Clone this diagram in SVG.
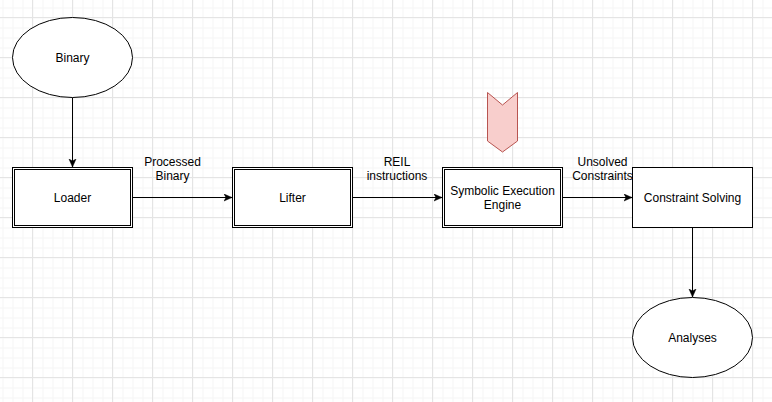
<svg xmlns="http://www.w3.org/2000/svg" width="772" height="402" viewBox="0 0 772 402">
<defs>
<pattern id="minor" width="10" height="10" patternUnits="userSpaceOnUse" x="2.5" y="7.5">
<path d="M0,0.5 H10 M0.5,0 V10" fill="none" stroke="#f5f5f5" stroke-width="1"/>
</pattern>
<pattern id="major" width="40" height="40" patternUnits="userSpaceOnUse" x="32" y="17">
<path d="M0,0.5 H40 M0.5,0 V40" fill="none" stroke="#e4e4e4" stroke-width="1"/>
</pattern>
<marker id="arr" markerWidth="10" markerHeight="10" refX="8" refY="4" orient="auto" markerUnits="userSpaceOnUse">
<path d="M0,0.5 L8,4 L0,7.5 L2,4 Z" fill="#000" stroke="#000" stroke-width="0.5"/>
</marker>
<style>
.box{fill:#fff;stroke:#000;stroke-width:1}
.t{font-family:"Liberation Sans",Arial,sans-serif;font-size:12px;fill:#000;text-anchor:middle}
.c{fill:none;stroke:#000;stroke-width:1}
</style>
</defs>
<rect width="772" height="402" fill="#fff"/>
<rect width="772" height="402" fill="url(#minor)"/>
<rect width="772" height="402" fill="url(#major)"/>

<g id="connectors">
<path class="c" d="M72.5,97.5 V167" marker-end="url(#arr)"/>
<path class="c" d="M132.5,197.5 H232" marker-end="url(#arr)"/>
<path class="c" d="M352.5,197.5 H442" marker-end="url(#arr)"/>
<path class="c" d="M562.5,197.5 H632" marker-end="url(#arr)"/>
<path class="c" d="M692.5,227.5 V297" marker-end="url(#arr)"/>
<text class="t" x="172.5" y="165.5">Processed</text>
<text class="t" x="172.5" y="179.5">Binary</text>
<text class="t" x="397" y="165.5">REIL</text>
<text class="t" x="397" y="179.5">instructions</text>
<text class="t" x="602.5" y="165.5">Unsolved</text>
<text class="t" x="602.5" y="179.5">Constraints</text>
</g>

<g id="binary">
<ellipse class="box" cx="72.5" cy="57.5" rx="60" ry="40"/>
<text class="t" x="72.5" y="61.5">Binary</text>
</g>

<g id="loader">
<rect class="box" x="12.5" y="167.5" width="120" height="60"/>
<rect class="box" x="14.5" y="169.5" width="116" height="56"/>
<text class="t" x="72.5" y="201.5">Loader</text>
</g>

<g id="lifter">
<rect class="box" x="232.5" y="167.5" width="120" height="60"/>
<rect class="box" x="234.5" y="169.5" width="116" height="56"/>
<text class="t" x="292.5" y="201.5">Lifter</text>
</g>

<g id="symbolic">
<rect class="box" x="442.5" y="167.5" width="120" height="60"/>
<rect class="box" x="444.5" y="169.5" width="116" height="56"/>
<text class="t" x="502.5" y="194.5">Symbolic Execution</text>
<text class="t" x="502.5" y="208.5">Engine</text>
</g>

<g id="marker-chevron">
<path d="M487.5,92.5 L502.5,105 L517.5,92.5 V141 L502.5,152 L487.5,141 Z" fill="#f8cecc" stroke="#b85450" stroke-width="1"/>
</g>

<g id="solver">
<rect class="box" x="632.5" y="167.5" width="120" height="60"/>
<text class="t" x="692.5" y="201.5">Constraint Solving</text>
</g>

<g id="analyses">
<ellipse class="box" cx="692.5" cy="337.5" rx="60" ry="40"/>
<text class="t" x="692.5" y="341.5">Analyses</text>
</g>
</svg>
